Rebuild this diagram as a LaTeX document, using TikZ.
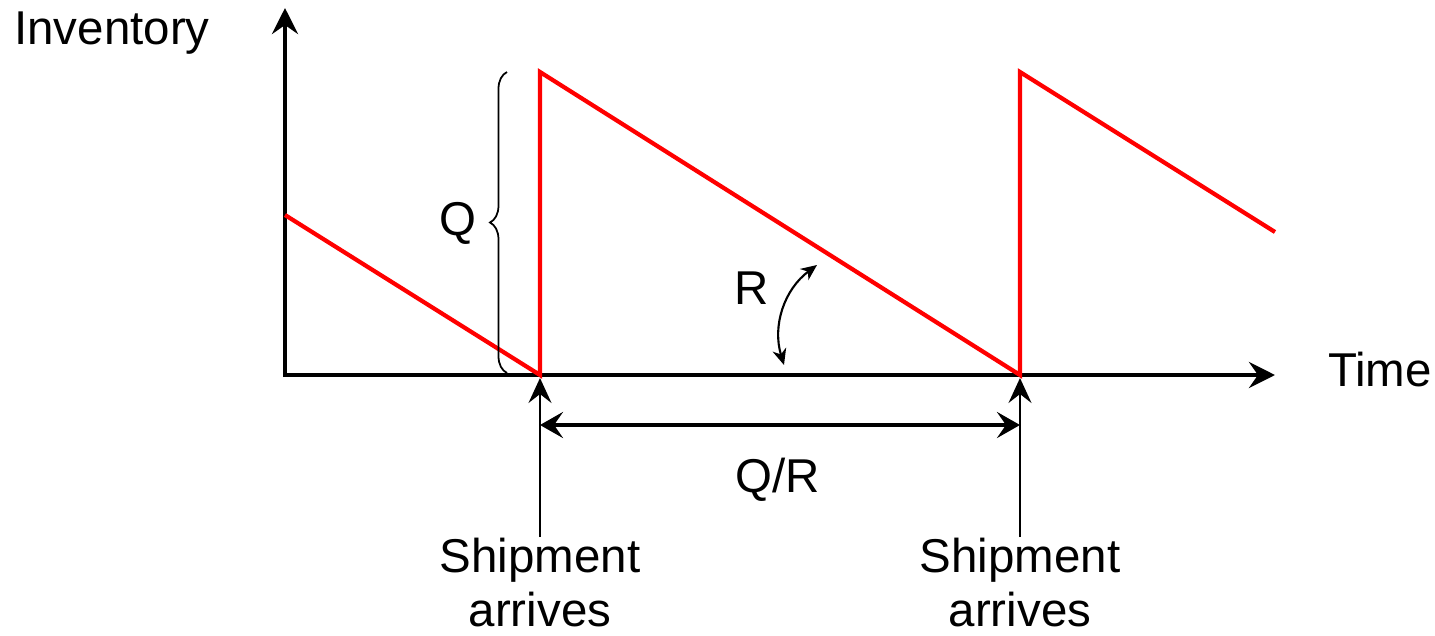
\documentclass[tikz,border=0pt]{standalone}
\usepackage{fontspec}
\setmainfont{Liberation Sans}
\usepackage{tikz}
\usetikzlibrary{positioning,arrows.meta,decorations.pathreplacing,calc}
\definecolor{stock}{RGB}{255,0,0}
\tikzset{
    axis/.style={line width=1.4pt,-{Stealth[length=2.6mm,width=2.6mm,inset=0.9mm]}},
    saw/.style={draw=stock,line width=1.2pt,line join=miter},
    arr/.style={line width=0.6pt,-{Stealth[length=2.5mm,width=2.3mm,inset=0.9mm]}},
    dbl/.style={line width=1.1pt,{Stealth[length=2.3mm,width=2.6mm,inset=0.9mm]}-{Stealth[length=2.3mm,width=2.6mm,inset=0.9mm]}},
    bent/.style={line width=0.6pt,{Stealth[length=1.6mm,width=1.4mm,inset=0.5mm]}-{Stealth[length=1.6mm,width=1.4mm,inset=0.5mm]}},
    lbl/.style={font=\fontsize{13.5}{15.6}\selectfont,inner sep=0pt,align=center},
}
\begin{document}
\begin{tikzpicture}[x=0.01cm,y=0.01cm]
\useasboundingbox (0,0) rectangle (1435,635);
% axes
\coordinate (o) at (285,260);
\coordinate (ytop) at (285,627);
\coordinate (xend) at (1275,260);
\draw[axis] ($(o)+(0,-2)$) -- (ytop);
\draw[axis] ($(o)+(-2,0)$) -- (xend);
\node[lbl] (inv) at (112,602) {Inventory};
\node[lbl] (time) at (1380,265) {Time};
% inventory level
\coordinate (s0) at (285,420);
\coordinate (a1) at (540,260);
\coordinate (t1) at (540,563);
\coordinate (a2) at (1020,260);
\coordinate (t2) at (1020,563);
\coordinate (s3) at (1275,403);
\draw[saw] (s0) -- (a1) -- (t1) -- (a2) -- (t2) -- (s3);
% order quantity
\coordinate (bb) at (507,262);
\coordinate (bt) at (507,563);
\draw[line width=0.5pt,decorate,decoration={brace,amplitude=0.17cm}] (bb) -- (bt);
\node[lbl] (q) at (458,412) {Q};
% demand rate
\coordinate (rlo) at (784,270);
\coordinate (rhi) at (817,370);
\draw[bent] (rlo) to[bend left=35] (rhi);
\node[lbl] (r) at (752,347) {R};
% shipments
\node[lbl,anchor=north] (ship1) at (540,98) {Shipment\\arrives};
\node[lbl,anchor=north] (ship2) at (1020,98) {Shipment\\arrives};
\draw[arr] (ship1.north) -- ($(a1)+(0,-3)$);
\draw[arr] (ship2.north) -- ($(a2)+(0,-3)$);
% cycle length
\coordinate (c1) at (540,210);
\coordinate (c2) at (1020,210);
\draw[dbl] (c1) -- (c2);
\node[lbl] (qr) at (778,155) {Q/R};
\end{tikzpicture}
\end{document}
